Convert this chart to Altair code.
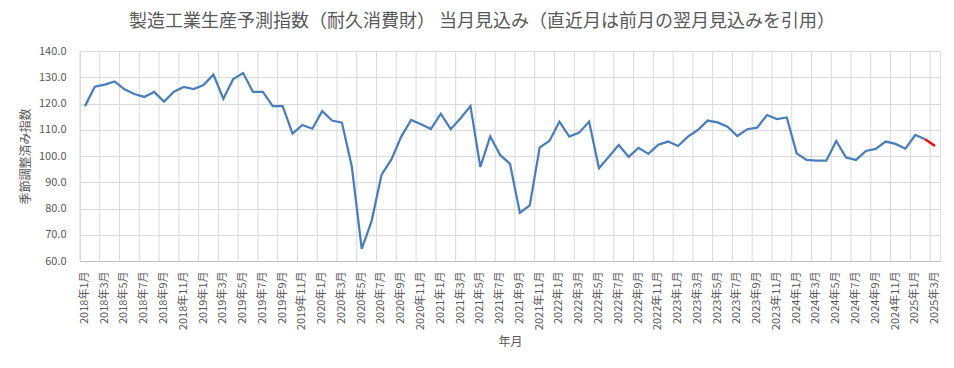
import altair as alt
import pandas as pd

months = [f"{y}年{m}月" for y in range(2018, 2026) for m in range(1, 13)][:87]

values = [
    119.0, 126.4, 127.2, 128.4, 125.4, 123.6, 122.5, 124.4, 120.7, 124.5, 126.3, 125.5,  # 2018
    127.0, 131.0, 121.8, 129.3, 131.6, 124.4, 124.4, 119.0, 119.0, 108.5, 111.8, 110.4,  # 2019
    117.1, 113.5, 112.7, 95.9, 64.6, 75.2, 92.8, 98.7, 107.4, 113.7, 112.1, 110.3,       # 2020
    116.1, 110.2, 114.4, 119.0, 95.8, 107.5, 100.4, 97.0, 78.4, 81.2, 103.2, 105.8,      # 2021
    113.1, 107.4, 108.9, 113.1, 95.3, 99.7, 104.2, 99.7, 103.1, 100.8, 104.3, 105.5,     # 2022
    103.8, 107.4, 109.9, 113.5, 112.8, 111.2, 107.6, 110.2, 110.8, 115.6, 114.1, 114.7,  # 2023
    101.0, 98.5, 98.2, 98.2, 105.7, 99.4, 98.5, 101.9, 102.7, 105.5, 104.6, 102.8,       # 2024
    108.0, 106.4, 103.8,                                                                 # 2025
]

title_text = "製造工業生産予測指数（耐久消費財） 当月見込み（直近月は前月の翌月見込みを引用）"
y_title = "季節調整済み指数"
x_title = "年月"
y_ticks = [60, 70, 80, 90, 100, 110, 120, 130, 140]

df = pd.DataFrame({"month": months, "value": values, "idx": list(range(len(months)))})
last = len(months) - 1
blue_df = df[df["idx"] <= last - 1]
red_df = df[df["idx"] >= last - 1]
grid_df = pd.DataFrame({"month": months[::2]})

FONT = "Noto Sans CJK JP"
GRAY = "#595959"
GRID = "#d9d9d9"

xscale = alt.Scale(type="band", domain=months, paddingInner=0, paddingOuter=0)
yscale = alt.Scale(domain=[60, 140], nice=False, zero=False)

yaxis = alt.Axis(values=y_ticks, format=".1f", title=y_title, grid=True, gridColor=GRID,
                 domain=False, ticks=False, labelPadding=14, labelFontSize=11, labelColor=GRAY,
                 labelFont=FONT, titleFont=FONT, titleFontSize=12, titleColor=GRAY,
                 titleFontWeight="normal", titlePadding=6)

xaxis = alt.Axis(values=months[::2], labelAngle=270, labelAlign="right", labelBaseline="middle",
                 grid=False, ticks=False, domain=True, domainColor="#bfbfbf",
                 labelFontSize=11, labelColor=GRAY, labelFont=FONT, labelPadding=10,
                 title=x_title, titleFont=FONT, titleFontSize=12, titleColor=GRAY,
                 titleFontWeight="normal", titlePadding=7, labelOverlap=False)

grid_layer = alt.Chart(grid_df).mark_rule(color=GRID, strokeWidth=1).encode(
    x=alt.X("month:N", sort=months, scale=xscale, axis=xaxis, bandPosition=0),
)

blue_line = alt.Chart(blue_df).mark_line(color="#4a7ebb", strokeWidth=2.25).encode(
    x=alt.X("month:N", sort=months, scale=xscale, axis=xaxis),
    y=alt.Y("value:Q", scale=yscale, axis=yaxis),
)

red_line = alt.Chart(red_df).mark_line(color="#ff0000", strokeWidth=2.25).encode(
    x=alt.X("month:N", sort=months, scale=xscale, axis=xaxis),
    y=alt.Y("value:Q", scale=yscale, axis=yaxis),
)

chart = alt.layer(grid_layer, blue_line, red_line).properties(
    width=860,
    height=210,
    autosize=alt.AutoSizeParams(type="none"),
    padding={"left": 72, "top": 43, "right": 5, "bottom": 95},
    title=alt.TitleParams(text=title_text, font=FONT, fontSize=18, color=GRAY,
                          fontWeight="normal", anchor="middle", dx=-28, offset=14),
).configure_view(stroke=None).configure(background="white")

chart.save("out.html", embed_options={"renderer": "svg", "actions": False})
